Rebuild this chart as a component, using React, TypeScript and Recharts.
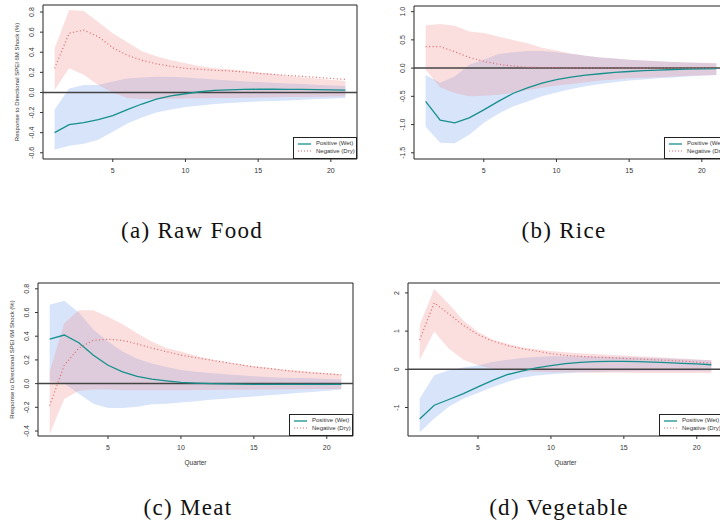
import React from "react";
import {
  ComposedChart,
  Area,
  Line,
  XAxis,
  YAxis,
  ReferenceLine,
  ReferenceArea,
  Legend,
} from "recharts";

const quarters = [1, 2, 3, 4, 5, 6, 7, 8, 9, 10, 11, 12, 13, 14, 15, 16, 17, 18, 19, 20, 21];
const xTicks = [5, 10, 15, 20];

// (a) Raw Food
const rawPos = [-0.4, -0.32, -0.3, -0.27, -0.23, -0.17, -0.115, -0.066, -0.033, -0.013, 0.007, 0.02, 0.026, 0.03, 0.032, 0.032, 0.031, 0.03, 0.028, 0.026, 0.024];
const rawPosLo = [-0.57, -0.53, -0.51, -0.47, -0.39, -0.31, -0.25, -0.2, -0.17, -0.145, -0.13, -0.115, -0.105, -0.097, -0.09, -0.085, -0.08, -0.073, -0.066, -0.06, -0.055];
const rawPosHi = [-0.17, 0.04, 0.075, 0.075, 0.11, 0.14, 0.15, 0.155, 0.155, 0.15, 0.14, 0.13, 0.12, 0.112, 0.104, 0.097, 0.09, 0.083, 0.076, 0.07, 0.064];
const rawNeg = [0.24, 0.59, 0.62, 0.555, 0.445, 0.37, 0.32, 0.285, 0.26, 0.24, 0.23, 0.22, 0.215, 0.205, 0.19, 0.18, 0.17, 0.16, 0.15, 0.14, 0.13];
const rawNegLo = [0.025, 0.24, 0.175, 0.075, 0.0, -0.055, -0.065, -0.065, -0.062, -0.06, -0.058, -0.056, -0.054, -0.052, -0.05, -0.048, -0.046, -0.044, -0.042, -0.04, -0.038];
const rawNegHi = [0.44, 0.82, 0.81, 0.7, 0.59, 0.5, 0.41, 0.36, 0.32, 0.29, 0.26, 0.24, 0.23, 0.215, 0.2, 0.185, 0.165, 0.152, 0.14, 0.127, 0.115];
const rawTicks = [-0.6, -0.4, -0.2, 0, 0.2, 0.4, 0.6, 0.8];

// (b) Rice
const ricePos = [-0.59, -0.92, -0.97, -0.88, -0.74, -0.59, -0.45, -0.35, -0.265, -0.205, -0.16, -0.125, -0.1, -0.075, -0.06, -0.045, -0.035, -0.025, -0.018, -0.012, -0.008];
const ricePosLo = [-1.04, -1.32, -1.33, -1.18, -0.97, -0.81, -0.68, -0.59, -0.5, -0.43, -0.37, -0.32, -0.28, -0.25, -0.22, -0.2, -0.18, -0.165, -0.15, -0.135, -0.12];
const ricePosHi = [-0.12, -0.26, -0.15, 0.06, 0.15, 0.25, 0.28, 0.305, 0.305, 0.28, 0.25, 0.22, 0.19, 0.17, 0.15, 0.135, 0.12, 0.11, 0.1, 0.09, 0.08];
const riceNeg = [0.38, 0.38, 0.29, 0.19, 0.12, 0.07, 0.035, 0.015, 0.01, 0.007, 0.005, 0.004, 0.003, 0.002, 0.002, 0.001, 0.001, 0.0, 0.0, 0.0, 0.0];
const riceNegLo = [-0.03, -0.34, -0.44, -0.5, -0.49, -0.47, -0.44, -0.39, -0.35, -0.31, -0.28, -0.25, -0.22, -0.2, -0.18, -0.17, -0.16, -0.147, -0.135, -0.127, -0.12];
const riceNegHi = [0.76, 0.78, 0.75, 0.65, 0.62, 0.56, 0.5, 0.44, 0.36, 0.31, 0.26, 0.22, 0.19, 0.17, 0.15, 0.135, 0.12, 0.11, 0.1, 0.095, 0.09];
const riceTicks = [-1.5, -1, -0.5, 0, 0.5, 1];

// (c) Meat
const meatPos = [0.375, 0.41, 0.345, 0.24, 0.155, 0.1, 0.062, 0.037, 0.023, 0.011, 0.005, 0.0, -0.003, -0.005, -0.006, -0.007, -0.007, -0.007, -0.007, -0.007, -0.007];
const meatPosLo = [0.02, 0.0, -0.085, -0.17, -0.205, -0.205, -0.195, -0.175, -0.17, -0.16, -0.148, -0.136, -0.128, -0.118, -0.108, -0.099, -0.09, -0.08, -0.07, -0.06, -0.05];
const meatPosHi = [0.665, 0.7, 0.6, 0.455, 0.355, 0.27, 0.21, 0.17, 0.14, 0.115, 0.1, 0.09, 0.08, 0.071, 0.062, 0.056, 0.05, 0.047, 0.045, 0.04, 0.035];
const meatNeg = [-0.185, 0.155, 0.3, 0.365, 0.375, 0.365, 0.335, 0.3, 0.27, 0.24, 0.22, 0.2, 0.18, 0.16, 0.14, 0.128, 0.113, 0.1, 0.09, 0.082, 0.074];
const meatNegLo = [-0.425, -0.13, -0.06, -0.05, -0.05, -0.055, -0.057, -0.057, -0.056, -0.055, -0.054, -0.053, -0.052, -0.051, -0.05, -0.049, -0.048, -0.047, -0.046, -0.045, -0.045];
const meatNegHi = [0.1, 0.51, 0.62, 0.62, 0.565, 0.5, 0.425, 0.355, 0.3, 0.27, 0.235, 0.205, 0.185, 0.165, 0.148, 0.134, 0.12, 0.11, 0.1, 0.09, 0.08];
const meatTicks = [-0.4, -0.2, 0, 0.2, 0.4, 0.6, 0.8];

// (d) Vegetable
const vegPos = [-1.3, -0.94, -0.79, -0.635, -0.46, -0.29, -0.14, -0.045, 0.035, 0.095, 0.15, 0.18, 0.2, 0.21, 0.21, 0.2, 0.19, 0.175, 0.155, 0.14, 0.12];
const vegPosLo = [-1.65, -1.29, -0.98, -0.765, -0.62, -0.46, -0.33, -0.22, -0.165, -0.13, -0.1, -0.08, -0.07, -0.06, -0.055, -0.05, -0.05, -0.05, -0.05, -0.05, -0.05];
const vegPosHi = [-0.77, -0.155, -0.025, 0.045, 0.1, 0.19, 0.25, 0.295, 0.32, 0.34, 0.34, 0.34, 0.335, 0.33, 0.32, 0.31, 0.295, 0.28, 0.265, 0.25, 0.235];
const vegNeg = [0.775, 1.74, 1.45, 1.15, 0.905, 0.74, 0.625, 0.54, 0.48, 0.41, 0.365, 0.34, 0.32, 0.305, 0.285, 0.27, 0.25, 0.235, 0.215, 0.19, 0.165];
const vegNegLo = [0.25, 0.99, 0.54, 0.25, 0.105, 0.017, -0.026, -0.05, -0.065, -0.075, -0.08, -0.085, -0.088, -0.09, -0.092, -0.094, -0.096, -0.097, -0.098, -0.099, -0.1];
const vegNegHi = [1.165, 2.1, 1.71, 1.28, 0.975, 0.78, 0.67, 0.58, 0.52, 0.48, 0.445, 0.42, 0.4, 0.38, 0.365, 0.345, 0.325, 0.305, 0.285, 0.26, 0.235];
const vegTicks = [-1, 0, 1, 2];

const TEAL = "#16908d";
const RED = "#e06464";
const SANS = "'Liberation Sans', Arial, Helvetica, sans-serif";
const SERIF = "'Liberation Serif', 'Times New Roman', serif";
const Y_W = 40;
const M_TOP = 5;
const M_RIGHT = 5;
const X_H = 40;

const makeRows = (pos, posLo, posHi, neg, negLo, negHi) =>
  quarters.map((q, i) => ({
    q,
    pos: pos[i],
    posBand: [posLo[i], posHi[i]],
    neg: neg[i],
    negBand: [negLo[i], negHi[i]],
  }));

const YTick = (props: any) => {
  const { x, y, payload, digits } = props;
  return (
    <text
      x={x}
      y={y}
      dy="0.35em"
      transform={`rotate(-90 ${x} ${y})`}
      textAnchor="middle"
      fontSize={7}
      fontFamily={SANS}
      fill="#333"
    >
      {Number(payload.value).toFixed(digits)}
    </text>
  );
};

const XTick = (props: any) => {
  const { x, y, payload } = props;
  return (
    <text x={x} y={y} dy="0.35em" textAnchor="middle" fontSize={7} fontFamily={SANS} fill="#333">
      {payload.value}
    </text>
  );
};

const YTitle = (props: any) => {
  const vb = props.viewBox;
  const x = vb.x + vb.width - 26;
  const y = vb.y + vb.height / 2;
  return (
    <text
      x={x}
      y={y}
      dy="0.35em"
      transform={`rotate(-90 ${x} ${y})`}
      textAnchor="middle"
      fontSize={6}
      fontFamily={SANS}
      fill="#333"
    >
      Response to Directional SPEI 6M Shock (%)
    </text>
  );
};

const XTitle = (props: any) => {
  const vb = props.viewBox;
  return (
    <text
      x={vb.x + vb.width / 2}
      y={vb.y + 27}
      dy="0.35em"
      textAnchor="middle"
      fontSize={6.5}
      fontFamily={SANS}
      fill="#333"
    >
      Quarter
    </text>
  );
};

const LegendBox = () => (
  <div
    style={{
      width: 64,
      height: 22,
      boxSizing: "border-box",
      border: "1px solid #222",
      background: "#fff",
      fontFamily: SANS,
      fontSize: 6,
      color: "#333",
      padding: "2px 0 0 4px",
      lineHeight: "7.6px",
    }}
  >
    <div style={{ display: "flex", alignItems: "center", height: 7.6 }}>
      <svg width={13} height={4}>
        <line x1={0} x2={13} y1={2} y2={2} stroke={TEAL} strokeWidth={1.3} />
      </svg>
      <span style={{ marginLeft: 5, whiteSpace: "nowrap" }}>Positive (Wet)</span>
    </div>
    <div style={{ display: "flex", alignItems: "center", height: 7.6 }}>
      <svg width={13} height={4}>
        <line x1={0} x2={13} y1={2} y2={2} stroke={RED} strokeWidth={1.2} strokeDasharray="1 2" />
      </svg>
      <span style={{ marginLeft: 5, whiteSpace: "nowrap" }}>Negative (Dry)</span>
    </div>
  </div>
);

const Panel = (p: any) => {
  const w = Y_W + p.plotW + M_RIGHT;
  const h = M_TOP + p.plotH + X_H;
  return (
    <div style={{ position: "absolute", left: p.left - Y_W, top: p.top - M_TOP }}>
      <ComposedChart
        width={w}
        height={h}
        data={p.rows}
        margin={{ top: M_TOP, right: M_RIGHT, bottom: 0, left: 0 }}
      >
        <XAxis
          dataKey="q"
          type="number"
          domain={[0.2, 21.8]}
          ticks={xTicks}
          interval={0}
          allowDataOverflow
          height={X_H}
          axisLine={false}
          tickLine={{ stroke: "#333" }}
          tickSize={3}
          tickMargin={8.8}
          tick={<XTick />}
          label={p.xLabel ? <XTitle /> : undefined}
        />
        <YAxis
          type="number"
          domain={p.domain}
          ticks={p.yTicks}
          interval={0}
          allowDataOverflow
          width={Y_W}
          axisLine={false}
          tickLine={{ stroke: "#333" }}
          tickSize={3}
          tickMargin={8.3}
          tick={<YTick digits={p.digits} />}
          label={p.yLabel ? <YTitle /> : undefined}
        />
        <Area
          type="linear"
          dataKey="posBand"
          fill="#6495ED"
          fillOpacity={0.25}
          stroke="none"
          isAnimationActive={false}
        />
        <Area
          type="linear"
          dataKey="negBand"
          fill="#F08080"
          fillOpacity={0.25}
          stroke="none"
          isAnimationActive={false}
        />
        <ReferenceLine y={0} stroke="#444" strokeWidth={1.5} />
        <Line
          type="linear"
          dataKey="pos"
          stroke={TEAL}
          strokeWidth={1.3}
          dot={false}
          isAnimationActive={false}
        />
        <Line
          type="linear"
          dataKey="neg"
          stroke={RED}
          strokeWidth={1.2}
          strokeDasharray="1 2.5"
          dot={false}
          isAnimationActive={false}
        />
        <ReferenceArea
          x1={0.2}
          x2={21.8}
          y1={p.domain[0]}
          y2={p.domain[1]}
          fill="none"
          stroke="#222"
          strokeWidth={1}
        />
        <Legend
          layout="horizontal"
          verticalAlign="middle"
          align="center"
          content={<LegendBox />}
          wrapperStyle={{ left: Y_W + p.plotW - 64, top: M_TOP + p.plotH - 22, width: 64, height: 22 }}
        />
      </ComposedChart>
    </div>
  );
};

const Caption = ({ text, cx, top }: any) => (
  <div
    style={{
      position: "absolute",
      left: cx - 150,
      top,
      width: 300,
      textAlign: "center",
      fontFamily: SERIF,
      fontSize: 23,
      lineHeight: "23px",
      letterSpacing: 1.3,
      color: "#111",
    }}
  >
    {text}
  </div>
);

export default function App() {
  return (
    <div
      style={{
        position: "absolute",
        left: 0,
        top: 0,
        width: 720,
        height: 525,
        overflow: "hidden",
        background: "#fff",
      }}
    >
      <Panel
        left={43}
        top={5}
        plotW={314}
        plotH={154}
        domain={[-0.662, 0.87]}
        yTicks={rawTicks}
        digits={1}
        yLabel
        rows={makeRows(rawPos, rawPosLo, rawPosHi, rawNeg, rawNegLo, rawNegHi)}
      />
      <Panel
        left={414}
        top={6}
        plotW={314}
        plotH={153}
        domain={[-1.61, 1.1]}
        yTicks={riceTicks}
        digits={1}
        rows={makeRows(ricePos, ricePosLo, ricePosHi, riceNeg, riceNegLo, riceNegHi)}
      />
      <Panel
        left={38}
        top={283}
        plotW={315}
        plotH={153}
        domain={[-0.442, 0.849]}
        yTicks={meatTicks}
        digits={1}
        yLabel
        xLabel
        rows={makeRows(meatPos, meatPosLo, meatPosHi, meatNeg, meatNegLo, meatNegHi)}
      />
      <Panel
        left={408}
        top={283}
        plotW={315}
        plotH={153}
        domain={[-1.746, 2.26]}
        yTicks={vegTicks}
        digits={0}
        xLabel
        rows={makeRows(vegPos, vegPosLo, vegPosHi, vegNeg, vegNegLo, vegNegHi)}
      />
      <Caption text="(a) Raw Food" cx={192} top={219} />
      <Caption text="(b) Rice" cx={564} top={219} />
      <Caption text="(c) Meat" cx={188} top={496} />
      <Caption text="(d) Vegetable" cx={559} top={496} />
    </div>
  );
}
